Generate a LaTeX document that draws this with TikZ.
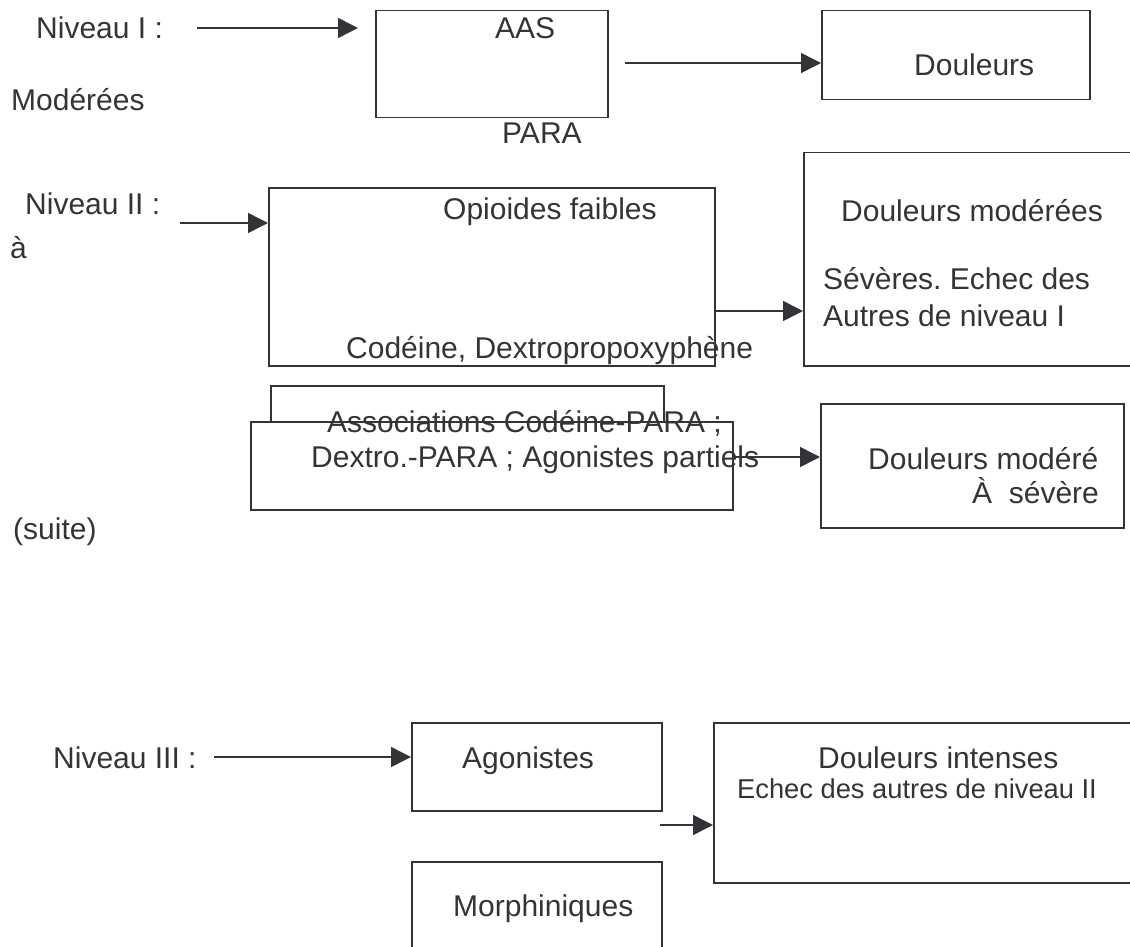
\documentclass[tikz,border=0pt]{standalone}
\usepackage{fontspec}
\setmainfont{Liberation Sans}
\usetikzlibrary{arrows.meta}
\definecolor{ink}{RGB}{52,52,56}
\begin{document}
\frenchspacing
\begin{tikzpicture}[x=1pt,y=-1pt,
  box/.style={draw=ink, line width=1.5pt, anchor=north west, inner sep=0pt, rectangle},
  lbl/.style={anchor=base west, inner sep=0pt, text=ink, font=\fontsize{30}{36}\selectfont},
  arr/.style={draw=ink, line width=1.5pt, -{Triangle[length=20pt,width=20pt]}}]
\clip (0,0) rectangle (1130,947);
% boxes
\node[box, minimum width=232pt, minimum height=107pt] (aas) at (375,10) {};
\node[box, minimum width=268pt, minimum height=89pt] (d1) at (821,10) {};
\node[box, minimum width=446pt, minimum height=178pt] (opi) at (268,187) {};
\node[box, minimum width=340pt, minimum height=213pt] (dm) at (803,152) {};
\draw[draw=ink, line width=1.5pt] (271,421) -- (271,386) -- (664,386) -- (664,421);
\node[box, minimum width=482pt, minimum height=88pt] (asf) at (250,421) {};
\node[box, minimum width=303pt, minimum height=124pt] (dms) at (820,403) {};
\node[box, minimum width=250pt, minimum height=88pt] (ago) at (411,722) {};
\node[box, minimum width=430pt, minimum height=160pt] (di) at (713,722) {};
\node[box, minimum width=250pt, minimum height=110pt] (mor) at (411,861) {};
% labels
\node[lbl] (n1) at (36,39) {Niveau I :};
\node[lbl] (aast) at (495,39) {AAS};
\node[lbl] (para) at (502,144) {PARA};
\node[lbl] (mod) at (11,111) {Modérées};
\node[lbl] (d1t) at (914,76) {Douleurs};
\node[lbl] (n2) at (25,214) {Niveau II :};
\node[lbl] (agr) at (10,258) {à};
\node[lbl] (opit) at (443,219) {Opioides faibles};
\node[lbl] (code) at (346,358) {Codéine, Dextropropoxyphène};
\node[lbl] (dmt1) at (841,221) {Douleurs modérées};
\node[lbl] (dmt2) at (823,289) {Sévères. Echec des};
\node[lbl] (dmt3) at (823,326) {Autres de niveau I};
\node[lbl] (ast1) at (327,432) {Associations Codéine-PARA ;};
\node[lbl] (ast2) at (311,467) {Dextro.-PARA ; Agonistes partiels};
\node[lbl] (dmst1) at (868,469) {Douleurs modéré};
\node[lbl] (dmst2) at (972,503) {À\ \ sévère};
\node[lbl] (suite) at (13,539) {(suite)};
\node[lbl] (n3) at (53,768) {Niveau III :};
\node[lbl] (agot) at (462,768) {Agonistes};
\node[lbl] (dit1) at (818,768) {Douleurs intenses};
\node[lbl, font=\fontsize{27.3}{33}\selectfont] (dit2) at (737,798) {Echec des autres de niveau II};
\node[lbl] (mort) at (453,916) {Morphiniques};
% connector ends
\coordinate (c1s) at (197,28);
\coordinate (c1e) at (358,28);
\coordinate (c2s) at (625,63);
\coordinate (c3s) at (180,223);
\coordinate (c6s) at (214,757);
\coordinate (c7s) at (660,825);
% connectors
\draw[arr] (c1s) -- (c1e);
\draw[arr] (c2s) -- (d1.west |- c2s);
\draw[arr] (c3s) -- (opi.west |- c3s);
\draw[arr] (opi.east |- 0,311) -- (dm.west |- 0,311);
\draw[arr] (asf.east |- 0,457) -- (dms.west |- 0,457);
\draw[arr] (c6s) -- (ago.west |- c6s);
\draw[arr] (c7s) -- (di.west |- c7s);
\end{tikzpicture}
\end{document}
